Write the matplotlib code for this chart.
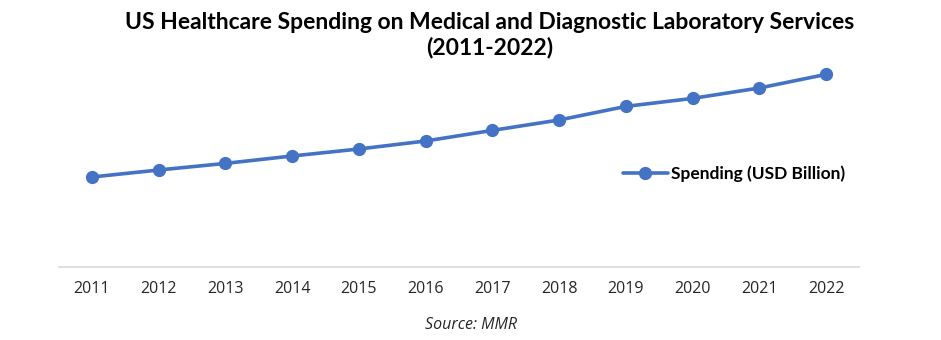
import numpy as np
import matplotlib.pyplot as plt

# Data (no y scale shown)
years = ['2011', '2012', '2013', '2014', '2015', '2016',
         '2017', '2018', '2019', '2020', '2021', '2022']
spending = [45.0, 48.5, 51.8, 55.5, 59.0, 63.0,
            68.3, 73.5, 80.3, 84.3, 89.5, 96.3]

color = '#4472C4'
W, H = 941, 340

fig = plt.figure(figsize=(W / 100, H / 100), dpi=100)
ax = fig.add_axes([58.6 / W, (H - 267) / H, (859.4 - 58.6) / W, 200 / H])

x = np.arange(len(years))
ax.plot(x, spending, color=color, linewidth=2.6, marker='o', markersize=8.5,
        label='Spending (USD Billion)', solid_capstyle='round')

ax.set_xlim(-0.5, len(years) - 0.5)
ax.set_ylim(0, 100)
ax.set_xticks(x)
ax.set_xticklabels(years, fontsize=11.5, family='Open Sans', color='#262626')
ax.tick_params(axis='x', length=0, pad=10)
ax.set_yticks([])
for s in ['top', 'right', 'left']:
    ax.spines[s].set_visible(False)
ax.spines['bottom'].set_color('#D9D9D9')
ax.spines['bottom'].set_linewidth(1.2)

fig.text(490 / W, 1 - 35 / H,
         'US Healthcare Spending on Medical and Diagnostic Laboratory Services\n(2011-2022)',
         ha='center', va='center', fontsize=16.5, fontweight='bold',
         family='Lato', linespacing=1.2, color='black')

leg = ax.legend(loc='center left', bbox_to_anchor=(607 / W, 1 - 174 / H),
                bbox_transform=fig.transFigure, frameon=False,
                handlelength=2.6, handletextpad=0.2,
                prop={'family': 'Lato', 'weight': 'bold', 'size': 12.5})

fig.text(471 / W, 1 - 325 / H, 'Source: MMR', ha='center', va='center',
         fontsize=11.5, style='italic', family='Open Sans', color='#262626')

plt.savefig('out.png', dpi=100)
